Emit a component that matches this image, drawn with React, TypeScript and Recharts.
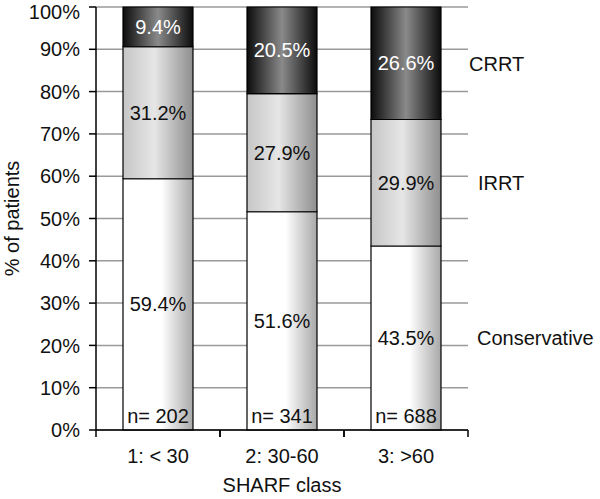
import { BarChart, Bar, XAxis, YAxis, CartesianGrid, LabelList, Customized } from 'recharts';

const classes = ['1: < 30', '2: 30-60', '3: >60'];
const conservative = [59.4, 51.6, 43.5];
const irrt = [31.2, 27.9, 29.9];
const crrt = [9.4, 20.5, 26.6];
const counts = ['n= 202', 'n= 341', 'n= 688'];
const yTicks = [0, 10, 20, 30, 40, 50, 60, 70, 80, 90, 100];

const data = classes.map((c, i) => ({
  name: c,
  Conservative: conservative[i],
  IRRT: irrt[i],
  CRRT: crrt[i],
  n: counts[i],
}));

const FONT = '"Liberation Sans", Arial, sans-serif';
const HALF_BAND = 62;

function XTick(props: any) {
  const { x, y, payload } = props;
  return (
    <g>
      <line x1={x - HALF_BAND} x2={x - HALF_BAND} y1={y - 19} y2={y - 12} stroke="#000" strokeWidth={1.5} />
      <line x1={x + HALF_BAND} x2={x + HALF_BAND} y1={y - 19} y2={y - 12} stroke="#000" strokeWidth={1.5} />
      <text x={x} y={y} dy="0.71em" textAnchor="middle" fontSize={20} fill="#111">
        {payload.value}
      </text>
    </g>
  );
}

function SeriesNames() {
  return (
    <g fontSize={20} fill="#111">
      <text x={469} y={64} dy="0.355em">CRRT</text>
      <text x={478} y={183} dy="0.355em">IRRT</text>
      <text x={477} y={338} dy="0.355em">Conservative</text>
    </g>
  );
}

const pct = (v: any) => `${Number(v).toFixed(1)}%`;

export default function App() {
  return (
    <div style={{ position: 'absolute', left: 0, top: 0, fontFamily: FONT, background: '#fff' }}>
      <BarChart
        width={600}
        height={499}
        data={data}
        margin={{ top: 7, right: 132, left: 0, bottom: 0 }}
        barCategoryGap={0}
      >
        <defs>
          <linearGradient id="gCons" x1="0" y1="0" x2="1" y2="0">
            <stop offset="0%" stopColor="#ffffff" />
            <stop offset="55%" stopColor="#ffffff" />
            <stop offset="100%" stopColor="#a8a8a8" />
          </linearGradient>
          <linearGradient id="gIrrt" x1="0" y1="0" x2="1" y2="0">
            <stop offset="0%" stopColor="#c6c6c6" />
            <stop offset="45%" stopColor="#e6e6e6" />
            <stop offset="100%" stopColor="#8e8e8e" />
          </linearGradient>
          <linearGradient id="gCrrt" x1="0" y1="0" x2="1" y2="0">
            <stop offset="0%" stopColor="#0c0c0c" />
            <stop offset="50%" stopColor="#8a8a8a" />
            <stop offset="100%" stopColor="#0c0c0c" />
          </linearGradient>
        </defs>
        <CartesianGrid vertical={false} stroke="#9a9a9a" strokeWidth={1.5} />
        <XAxis
          dataKey="name"
          height={69}
          axisLine={{ stroke: '#000', strokeWidth: 1.5 }}
          tickLine={false}
          tickSize={7}
          tickMargin={12}
          tick={<XTick />}
          interval={0}
          label={{ value: 'SHARF class', position: 'insideBottom', offset: 7, fontSize: 20, fill: '#111' }}
        />
        <YAxis
          width={96}
          domain={[0, 100]}
          ticks={yTicks}
          tickFormatter={(v) => `${v}%`}
          axisLine={{ stroke: '#000', strokeWidth: 1.5 }}
          tickLine={{ stroke: '#000', strokeWidth: 1.5 }}
          tickSize={7}
          tickMargin={9}
          tick={{ fontSize: 20, fill: '#111' }}
          label={{ value: '% of patients', angle: -90, position: 'center', dx: -36, fontSize: 20, fill: '#111' }}
        />
        <Bar dataKey="Conservative" stackId="a" barSize={70} fill="url(#gCons)" stroke="#000" strokeWidth={1.2} isAnimationActive={false}>
          <LabelList dataKey="Conservative" position="center" formatter={pct} fontSize={20} fill="#111" />
          <LabelList dataKey="n" position="insideBottom" offset={7} fontSize={20} fill="#111" />
        </Bar>
        <Bar dataKey="IRRT" stackId="a" barSize={70} fill="url(#gIrrt)" stroke="#000" strokeWidth={1.2} isAnimationActive={false}>
          <LabelList dataKey="IRRT" position="center" formatter={pct} fontSize={20} fill="#111" />
        </Bar>
        <Bar dataKey="CRRT" stackId="a" barSize={70} fill="url(#gCrrt)" stroke="#000" strokeWidth={1.2} isAnimationActive={false}>
          <LabelList dataKey="CRRT" position="center" formatter={pct} fontSize={20} fill="#fff" />
        </Bar>
        <Customized component={SeriesNames} />
      </BarChart>
    </div>
  );
}
